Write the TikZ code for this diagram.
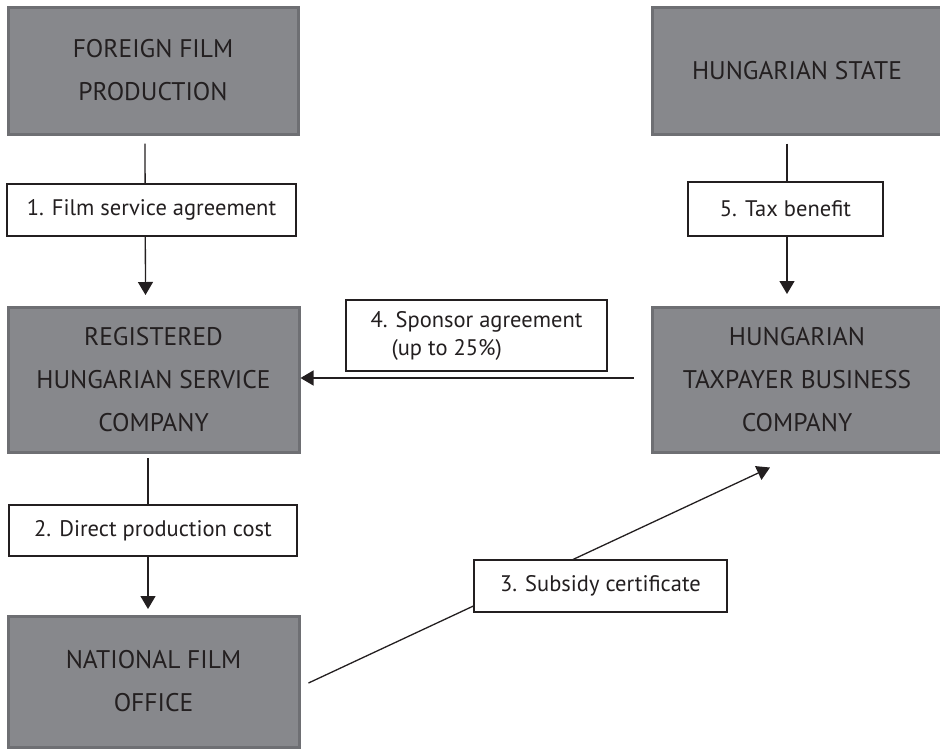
\documentclass[tikz,border=0pt]{standalone}
\usepackage{fontspec}
\setmainfont{PT Sans}
\usetikzlibrary{arrows.meta,calc}
\definecolor{BoxGray}{HTML}{87888C}
\definecolor{BoxEdge}{HTML}{6E6F73}
\definecolor{InkDark}{HTML}{231F20}

\tikzset{
  party/.style={draw=BoxEdge, fill=BoxGray, line width=3pt, inner sep=0pt,
                align=center, text=InkDark, font=\fontsize{25.5}{43}\selectfont},
  deal/.style={draw=InkDark, fill=white, line width=2.5pt, inner sep=0pt,
               align=center, text=InkDark, font=\fontsize{22.5}{28}\selectfont},
  flow/.style={draw=InkDark, line width=1.3pt, -{Triangle[length=13pt,width=15pt]}},
  link/.style={draw=InkDark, line width=1.3pt}
}

\begin{document}
\begin{tikzpicture}[x=1pt, y=-1pt]
  \useasboundingbox (0,0) rectangle (940,750);

  % the parties
  \node[party, minimum width=290pt, minimum height=127pt] (foreign) at (153,70.5)
    {FOREIGN FILM\\PRODUCTION};
  \node[party, minimum width=290pt, minimum height=127pt] (state) at (797,70.5)
    {HUNGARIAN STATE};
  \node[party, minimum width=291pt, minimum height=145pt] (service) at (153.5,379.5)
    {REGISTERED\\HUNGARIAN SERVICE\\COMPANY};
  \node[party, minimum width=290pt, minimum height=145pt] (taxpayer) at (797,379.5)
    {HUNGARIAN\\TAXPAYER BUSINESS\\COMPANY};
  \node[party, minimum width=291pt, minimum height=131pt] (office) at (153.5,681.5)
    {NATIONAL FILM\\OFFICE};

  % flows between the parties
  \draw[flow] ([xshift=-8pt,yshift=-8pt]foreign.south) -- ([xshift=-8pt,yshift=10.5pt]service.north);
  \draw[flow] ([xshift=-10pt,yshift=-8pt]state.south) -- ([xshift=-10pt,yshift=11.5pt]taxpayer.north);
  \draw[flow] ([xshift=-17pt,yshift=1.5pt]taxpayer.west) -- ([yshift=1.5pt]service.east);
  \draw[flow] ([xshift=-5.5pt,yshift=-4.5pt]service.south) -- ([xshift=-5.5pt,yshift=5.5pt]office.north);
  \draw[flow] ([xshift=8pt,yshift=-1.5pt]office.east) -- ([xshift=-27pt,yshift=-14pt]taxpayer.south);

  % the agreements
  \node[deal, minimum width=289pt, minimum height=52pt] (filmdeal) at (151.5,210)
    {1. Film service agreement};
  \node[deal, minimum width=288pt, minimum height=51pt] (costdeal) at (153,530.5)
    {2. Direct production cost};
  \node[deal, minimum width=253pt, minimum height=52pt] (subsidy) at (600.5,586)
    {3. Subsidy certificate};
  \node[deal, minimum width=261pt, minimum height=71pt, align=left] (sponsor) at (476.5,335.5)
    {4. Sponsor agreement\\\hspace*{21pt}(up to 25\%)};
  \node[deal, minimum width=195pt, minimum height=54pt] (taxdeal) at (785.5,209)
    {5. Tax benefit};
\end{tikzpicture}
\end{document}
